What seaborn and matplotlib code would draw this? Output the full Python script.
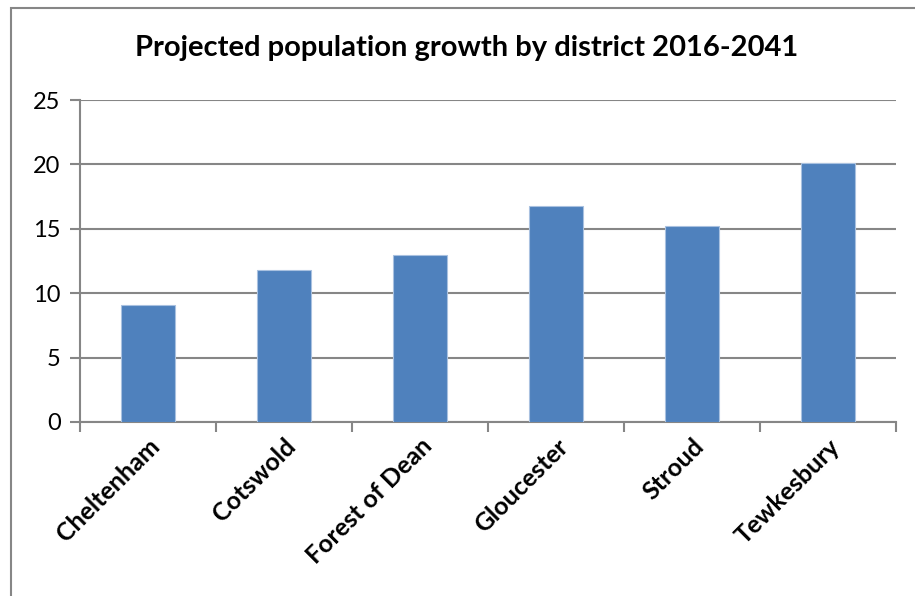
#import libraries
import pandas as pd
import seaborn as sns
import matplotlib.pyplot as plt
from matplotlib.patches import Rectangle

# chart data
districts = ['Cheltenham', 'Cotswold', 'Forest of Dean', 'Gloucester', 'Stroud', 'Tewkesbury']
growth = [9.1, 11.8, 13.0, 16.8, 15.2, 20.1]
y_ticks = [0, 5, 10, 15, 20, 25]

df = pd.DataFrame({'District': districts, 'Growth': growth})

sns.set_style('white')
plt.rcParams['font.family'] = ['Lato', 'DejaVu Sans']
plt.rcParams['text.color'] = 'black'
plt.rcParams['xtick.labelcolor'] = 'black'
plt.rcParams['ytick.labelcolor'] = 'black'

grey = '#868686'
fig = plt.figure(figsize=(9.15, 5.96), dpi=100)
ax = fig.add_axes([0.0874, 0.292, 0.892, 0.540])

sns.barplot(data=df, x='District', y='Growth', color='#4F81BD', saturation=1,
            width=0.4, edgecolor='#A9C1E0', linewidth=0.8, ax=ax, zorder=3)

ax.set_ylim(0, 25)
ax.set_xlim(-0.5, len(districts) - 0.5)
ax.set_yticks(y_ticks)
ax.set_yticklabels([str(v) for v in y_ticks], fontsize=17)
ax.yaxis.grid(True, color=grey, linewidth=1.5, zorder=0)
ax.tick_params(axis='y', length=7, width=1.5, color=grey, direction='out', pad=7, left=True,
               labelcolor='black')

# category labels, ticks at category boundaries
ax.set_xticks(range(len(districts)))
ax.set_xticklabels(districts, rotation=45, ha='right', rotation_mode='anchor',
                   fontsize=18, fontweight='bold')
ax.tick_params(axis='x', length=0, pad=9, labelcolor='black')
ax.set_xticks([i - 0.5 for i in range(len(districts) + 1)], minor=True)
ax.tick_params(axis='x', which='minor', length=7, width=1.5, color=grey, direction='out', bottom=True)

for side in ['top', 'right']:
    ax.spines[side].set_visible(False)
for side in ['left', 'bottom']:
    ax.spines[side].set_color(grey)
    ax.spines[side].set_linewidth(1.5)

ax.set_xlabel('')
ax.set_ylabel('')

fig.text(0.51, 0.919, 'Projected population growth by district 2016-2041',
         ha='center', va='center', fontsize=21, fontweight='bold', color='black')

# outer chart frame (cropped at right and bottom)
fig.patches.append(Rectangle((0.012, -0.1), 1.2, 1.0866, transform=fig.transFigure,
                             fill=False, edgecolor=grey, linewidth=1.5))

plt.savefig('out.png', dpi=100)
